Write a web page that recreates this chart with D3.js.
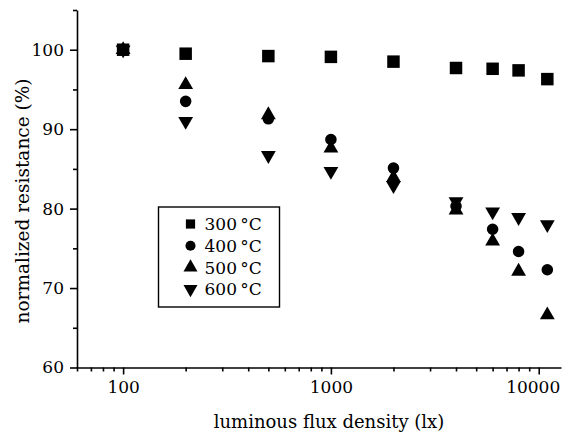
<!DOCTYPE html>
<html>
<head>
<meta charset="utf-8">
<script src="https://cdn.jsdelivr.net/npm/d3@7"></script>
<style>
  body { margin: 0; background: #fff; }
  svg text { font-family: "DejaVu Serif", serif; fill: #000; }
</style>
</head>
<body>
<div id="chart"></div>
<script>
// luminous flux density (lx)
const flux = [100, 200, 500, 1000, 2000, 4000, 6000, 8000, 11000];
// normalized resistance (%) per annealing temperature
const r300 = [100, 99.5, 99.2, 99.1, 98.5, 97.7, 97.6, 97.4, 96.3];
const r400 = [100, 93.5, 91.3, 88.7, 85.1, 80.3, 77.4, 74.6, 72.3];
const r500 = [100, 95.6, 91.8, 87.6, 83.9, 79.8, 75.9, 72.1, 66.6];
const r600 = [100, 91.0, 86.7, 84.7, 82.9, 80.9, 79.6, 78.9, 78.0];
const seriesNames = ["300\u2009°C", "400\u2009°C", "500\u2009°C", "600\u2009°C"];
const xTicks = [100, 1000, 10000];
const yTicks = [60, 70, 80, 90, 100];

const series = [
    { name: seriesNames[0], values: r300, symbol: d3.symbolSquare, size: 156, legendSize: 85 },
    { name: seriesNames[1], values: r400, symbol: d3.symbolCircle, size: 105, legendSize: 80 },
    { name: seriesNames[2], values: r500, symbol: d3.symbolTriangle, size: 95, legendSize: 85 },
    { name: seriesNames[3], values: r600, symbol: "down", size: 95, legendSize: 85 }
];

const width = 562, height = 435;
const svg = d3.select("#chart").append("svg")
    .attr("width", width)
    .attr("height", height);

const xScale = d3.scaleLog().domain([60, 12800]).range([77, 561]);
const yScale = d3.scaleLinear().domain([60, 105]).range([367.5, 10]);

// x axis with minor ticks
const xMinor = [];
for (let dec = 10; dec <= 10000; dec *= 10) {
    for (let k = 1; k <= 9; k++) {
        const v = dec * k;
        if (v >= 60 && v <= 12800 && !xTicks.includes(v)) xMinor.push(v);
    }
}
const xAxisG = svg.append("g").attr("transform", `translate(0, ${yScale(60)})`);
xAxisG.append("g")
    .call(d3.axisBottom(xScale).tickValues(xMinor).tickSize(4).tickFormat(""))
    .call(g => g.select(".domain").remove());
xAxisG.append("g")
    .call(d3.axisBottom(xScale).tickValues(xTicks).tickSize(7).tickSizeOuter(0)
        .tickFormat(d3.format("d")))
    .call(g => g.selectAll("text").attr("font-size", 17).attr("y", 19).attr("dy", "0.36em"))
    .call(g => g.selectAll(".tick").filter(d => d === 10000).select("text")
        .attr("text-anchor", "end").attr("x", 21));
xAxisG.selectAll("path, line").attr("stroke", "#000").attr("stroke-width", 1.6);
xAxisG.selectAll("text").attr("font-family", "DejaVu Serif");

// y axis with minor ticks
const yAxisG = svg.append("g").attr("transform", `translate(${xScale(60)}, 0)`);
yAxisG.append("g")
    .call(d3.axisLeft(yScale).tickValues([65, 75, 85, 95, 105]).tickSize(4).tickFormat(""))
    .call(g => g.select(".domain").remove());
yAxisG.append("g")
    .call(d3.axisLeft(yScale).tickValues(yTicks).tickSize(7).tickSizeOuter(0))
    .call(g => g.selectAll("text").attr("font-size", 17).attr("x", -13));
yAxisG.selectAll("path, line").attr("stroke", "#000").attr("stroke-width", 1.6);
yAxisG.selectAll("text").attr("font-family", "DejaVu Serif");

// axis titles
svg.append("text")
    .attr("x", 329)
    .attr("y", 428)
    .attr("text-anchor", "middle")
    .attr("font-size", 18)
    .text("luminous flux density (lx)");

svg.append("text")
    .attr("transform", "translate(28.5, 201) rotate(-90)")
    .attr("text-anchor", "middle")
    .attr("font-size", 18.5)
    .text("normalized resistance (%)");

function symbolPath(type, size) {
    return d3.symbol().type(type === "down" ? d3.symbolTriangle : type).size(size)();
}

// points
series.forEach(s => {
    const flip = s.symbol === "down";
    svg.append("g").selectAll("path")
        .data(flux.map((f, i) => ({ f, v: s.values[i] })))
        .enter().append("path")
        .attr("d", symbolPath(s.symbol, s.size))
        .attr("transform", d => `translate(${xScale(d.f)}, ${yScale(d.v)})${flip ? " rotate(180)" : ""}`)
        .attr("fill", "#000");
});

// legend
const legend = svg.append("g").attr("transform", "translate(158.5, 207)");
legend.append("rect")
    .attr("width", 121)
    .attr("height", 100)
    .attr("fill", "#fff")
    .attr("stroke", "#000")
    .attr("stroke-width", 1.4);
series.forEach((s, i) => {
    const y = 17 + i * 21.7;
    legend.append("path")
        .attr("d", symbolPath(s.symbol, s.legendSize))
        .attr("transform", `translate(32, ${y})${s.symbol === "down" ? " rotate(180)" : ""}`)
        .attr("fill", "#000");
    legend.append("text")
        .attr("x", 46)
        .attr("y", y)
        .attr("dy", "0.36em")
        .attr("font-size", 17)
        .text(s.name);
});
</script>
</body>
</html>
